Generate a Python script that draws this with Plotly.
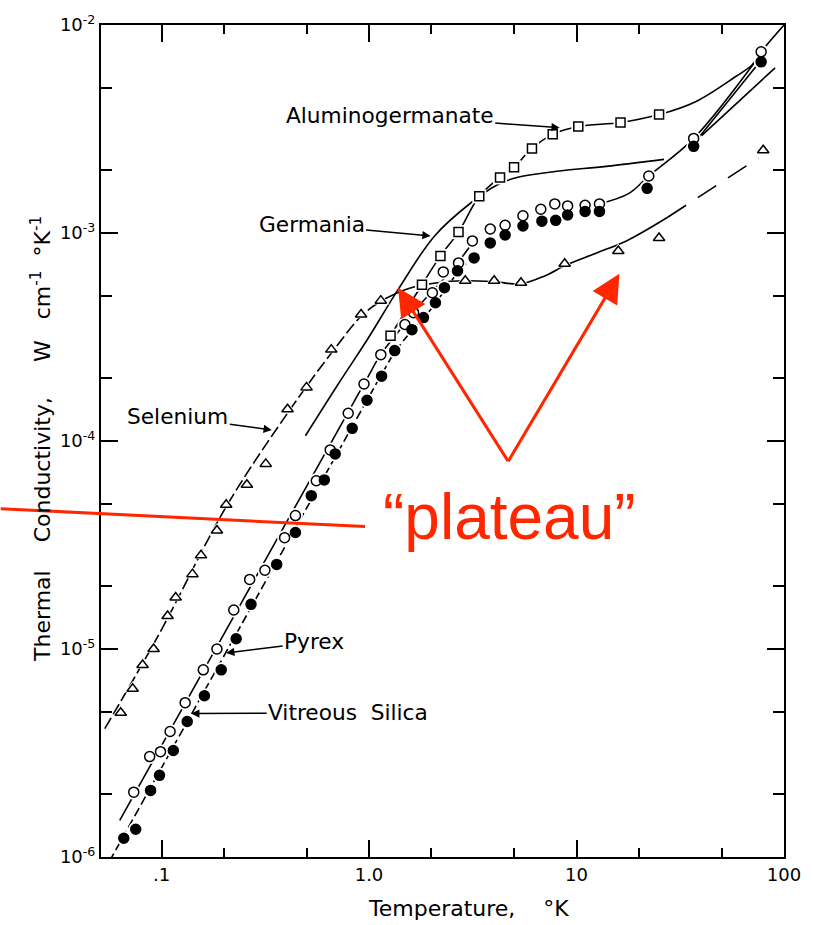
import math
import plotly.graph_objects as go

# Thermal conductivity of glasses vs temperature (log-log)

# --- measured points -------------------------------------------------------
pyrex_T = [0.0735, 0.0877, 0.0989, 0.110, 0.130, 0.159, 0.185, 0.223, 0.266, 0.315,
           0.392, 0.442, 0.557, 0.650, 0.794, 0.946, 1.14, 1.49, 1.64, 2.02,
           2.28, 2.70, 3.15, 3.84, 4.53, 5.52, 6.73, 7.86, 9.06, 11.0,
           12.9, 22.3, 36.7, 77.6]
pyrex_k = [2.05e-6, 3.04e-6, 3.21e-6, 4.01e-6, 5.52e-6, 7.94e-6, 1.0e-5, 1.54e-5, 2.16e-5, 2.39e-5,
           3.43e-5, 4.38e-5, 6.44e-5, 9.06e-5, 1.36e-4, 1.88e-4, 2.60e-4, 3.63e-4, 4.14e-4, 5.16e-4,
           6.50e-4, 7.18e-4, 9.16e-4, 1.045e-3, 1.09e-3, 1.21e-3, 1.30e-3, 1.38e-3, 1.35e-3, 1.36e-3,
           1.38e-3, 1.88e-3, 2.85e-3, 7.43e-3]

silica_T = [0.0658, 0.0751, 0.0886, 0.0978, 0.114, 0.133, 0.161, 0.194, 0.229, 0.270,
            0.359, 0.442, 0.527, 0.609, 0.687, 0.830, 0.978, 1.15, 1.33, 1.61,
            1.83, 2.09, 2.31, 2.67, 3.21, 3.84, 4.53, 5.52, 6.81, 7.94,
            9.06, 11.0, 12.9, 21.9, 36.7, 77.6]
silica_k = [1.23e-6, 1.36e-6, 2.09e-6, 2.47e-6, 3.25e-6, 4.48e-6, 5.96e-6, 7.94e-6, 1.12e-5, 1.64e-5,
            2.55e-5, 3.63e-5, 5.46e-5, 6.50e-5, 8.67e-5, 1.15e-4, 1.57e-4, 2.05e-4, 2.72e-4, 3.43e-4,
            3.92e-4, 4.62e-4, 5.46e-4, 6.58e-4, 7.59e-4, 8.96e-4, 9.78e-4, 1.08e-3, 1.14e-3, 1.15e-3,
            1.22e-3, 1.27e-3, 1.27e-3, 1.64e-3, 2.61e-3, 6.65e-3]

selenium_T = [0.0636, 0.0726, 0.0811, 0.0916, 0.107, 0.117, 0.141, 0.155, 0.185, 0.205,
              0.258, 0.318, 0.405, 0.500, 0.658, 0.916, 1.14, 2.91, 4.01, 5.40,
              8.77, 15.9, 25.0, 79.4]
selenium_k = [4.94e-6, 6.44e-6, 8.38e-6, 1.0e-5, 1.44e-5, 1.77e-5, 2.29e-5, 2.82e-5, 3.71e-5, 4.94e-5,
              6.16e-5, 7.76e-5, 1.42e-4, 1.81e-4, 2.75e-4, 4.06e-4, 4.73e-4, 5.89e-4, 5.89e-4, 5.76e-4,
              7.11e-4, 8.20e-4, 9.46e-4, 2.50e-3]

alumino_T = [1.27, 1.80, 2.21, 2.70, 3.40, 4.28, 5.00, 6.10, 7.68, 10.2, 16.3, 25.0]
alumino_k = [3.21e-4, 5.64e-4, 7.76e-4, 1.01e-3, 1.50e-3, 1.85e-3, 2.07e-3, 2.55e-3, 2.98e-3, 3.25e-3,
             3.40e-3, 3.71e-3]

# --- smooth curves drawn through / beside the data --------------------------
pyrex_lo_T = [0.0629, 0.251, 0.946, 1.14, 1.38, 1.71, 2.14, 2.67, 3.25]
pyrex_lo_k = [1.50e-6, 1.77e-5, 1.88e-4, 2.61e-4, 3.33e-4, 4.38e-4, 5.57e-4, 7.18e-4, 9.36e-4]
pyrex_hi_T = [12.9, 17.9, 22.3, 36.7, 77.6]
pyrex_hi_k = [1.38e-3, 1.55e-3, 1.88e-3, 2.85e-3, 7.30e-3]

silica_lo_T = [0.0560, 0.251, 0.978, 1.15, 1.33, 1.61, 1.91, 2.31, 2.72, 3.32]
silica_lo_k = [9.5e-7, 1.39e-5, 1.57e-4, 2.09e-4, 2.67e-4, 3.40e-4, 4.09e-4, 5.27e-4, 6.58e-4, 8.02e-4]
silica_hi_T = [37.5, 76.0]
silica_hi_k = [2.75e-3, 6.60e-3]

germania_T = [0.494, 0.711, 0.989, 1.38, 2.07, 3.08, 4.14, 5.16, 8.02, 13.9, 26.4]
germania_k = [1.06e-4, 1.88e-4, 3.11e-4, 5.34e-4, 9.68e-4, 1.39e-3, 1.70e-3, 1.85e-3, 1.98e-3,
              2.09e-3, 2.26e-3]
germania_hi_T = [40.1, 90.6]
germania_hi_k = [2.94e-3, 6.22e-3]

selenium_lo_T = [0.0533, 0.0978, 0.205, 0.409, 0.673, 0.935, 1.17]
selenium_lo_k = [4.14e-6, 1.19e-5, 4.83e-5, 1.38e-4, 2.72e-4, 4.06e-4, 4.78e-4]
selenium_mid_T = [1.17, 1.54, 2.14, 2.91, 4.01, 5.40, 7.03, 8.95, 12.5, 17.4, 27.5]
selenium_mid_k = [4.78e-4, 5.40e-4, 5.77e-4, 5.89e-4, 5.83e-4, 5.70e-4, 6.22e-4, 7.03e-4, 8.02e-4,
                  9.16e-4, 1.19e-3]
selenium_hi_T = [27.5, 75.2]
selenium_hi_k = [1.19e-3, 2.29e-3]

alumino_line_T = alumino_T + [37.5, 58.3, 70.3, 77.6, 100.0]
alumino_line_k = alumino_k + [4.28e-3, 5.64e-3, 6.44e-3, 7.43e-3, 1.0e-2]

# --- axis ticks --------------------------------------------------------------
x_major = [0.1, 1, 10, 100]
x_major_text = [".1", "1.0", "10", "100"]
x_minor = [0.2, 0.5, 2, 5, 20, 50]
y_major = [1e-6, 1e-5, 1e-4, 1e-3, 1e-2]
y_major_text = ["10<sup>-6</sup>", "10<sup>-5</sup>", "10<sup>-4</sup>", "10<sup>-3</sup>", "10<sup>-2</sup>"]
y_minor = [m * 10.0 ** e for e in range(-6, -2) for m in (2, 5)]

INK = "black"
RED = "#ff2600"
FONT = "DejaVu Sans"
LW = 1.6
NB = "\u00a0"

fig = go.Figure()


def curve(T, k, dash="solid"):
    fig.add_trace(go.Scatter(x=T, y=k, mode="lines",
                             line=dict(color=INK, width=LW, shape="spline", dash=dash),
                             hoverinfo="skip", showlegend=False))


curve(pyrex_lo_T, pyrex_lo_k)
curve(pyrex_hi_T, pyrex_hi_k)
curve(silica_lo_T, silica_lo_k, dash="9px,4px")
curve(silica_hi_T, silica_hi_k)
curve(germania_T, germania_k)
curve(germania_hi_T, germania_hi_k)
curve(selenium_lo_T, selenium_lo_k, dash="12px,4px")
curve(selenium_mid_T, selenium_mid_k)
curve(selenium_hi_T, selenium_hi_k, dash="22px,14px")
curve(alumino_line_T, alumino_line_k)

series = [
    (alumino_T, alumino_k, "square", 9, "white"),
    (selenium_T, selenium_k, "triangle-up", 10, "white"),
    (pyrex_T, pyrex_k, "circle", 10, "white"),
    (silica_T, silica_k, "circle", 10, INK),
]

# white halo so the curves stop just short of each symbol
for T, k, sym, size, fill in series:
    fig.add_trace(go.Scatter(x=T, y=k, mode="markers",
                             marker=dict(symbol=sym, size=size + 5, color="white",
                                         line=dict(width=0)),
                             hoverinfo="skip", showlegend=False))
for T, k, sym, size, fill in series:
    fig.add_trace(go.Scatter(x=T, y=k, mode="markers",
                             marker=dict(symbol=sym, size=size, color=fill,
                                         line=dict(color=INK, width=1.5)),
                             showlegend=False))


def label(text, tip_T, tip_k, ax, ay):
    fig.add_annotation(x=math.log10(tip_T), y=math.log10(tip_k), xref="x", yref="y",
                       text=text, showarrow=True, ax=ax, ay=ay,
                       arrowhead=2, arrowsize=1.1, arrowwidth=1.5, arrowcolor=INK,
                       font=dict(family=FONT, size=21.7, color=INK))


label("Aluminogermanate", 8.3, 3.21e-3, -170, -12)
label("Germania", 1.98, 9.68e-4, -119, -11)
label("Selenium", 0.340, 1.13e-4, -94, -13)
label("Pyrex", 0.205, 9.57e-6, 88, -11)
label("Vitreous" + NB * 2 + "Silica", 0.139, 4.89e-6, 157, -1)

# "plateau" call-out
fig.add_annotation(x=math.log10(4.73), y=math.log10(4.33e-5), xref="x", yref="y",
                   text="\u201cplateau\u201d", showarrow=False,
                   font=dict(family="Liberation Sans", size=64, color=RED))
for tip_T, tip_k, ax, ay in [(1.38, 5.46e-4, 111, 175), (16.1, 6.37e-4, -112, 189)]:
    fig.add_annotation(x=math.log10(tip_T), y=math.log10(tip_k), xref="x", yref="y",
                       text="", showarrow=True, ax=ax, ay=ay,
                       arrowhead=2, arrowsize=1.9, arrowwidth=3, arrowcolor=RED)
fig.add_shape(type="line", xref="paper", yref="paper",
              x0=-0.1468, y0=0.4187, x1=0.3866, y1=0.3971,
              line=dict(color=RED, width=3))

# axis titles
fig.add_annotation(xref="paper", yref="paper", x=0.538, y=-0.062,
                   xanchor="center", yanchor="middle",
                   text="Temperature," + NB * 4 + "°K", showarrow=False,
                   font=dict(family=FONT, size=22, color=INK))
fig.add_annotation(xref="paper", yref="paper", x=-0.0887, y=0.503, textangle=-90,
                   xanchor="center", yanchor="middle",
                   text=("Thermal" + NB * 4 + "Conductivity," + NB * 5 + "W" + NB * 3 +
                         "cm<sup>-1</sup>" + NB * 2 + "°K<sup>-1</sup>"),
                   showarrow=False, font=dict(family=FONT, size=22, color=INK))

axis_common = dict(type="log", showgrid=False, zeroline=False,
                   showline=True, linewidth=2, linecolor=INK, mirror="allticks",
                   ticks="inside", ticklen=17, tickwidth=2, tickcolor=INK,
                   tickfont=dict(family=FONT, size=18, color=INK))

fig.update_layout(
    width=813, height=925,
    margin=dict(l=101, r=24, t=21, b=68),
    paper_bgcolor="white", plot_bgcolor="white",
    xaxis=dict(range=[math.log10(0.0511), 2], tickmode="array",
               tickvals=x_major, ticktext=x_major_text,
               minor=dict(tickmode="array", tickvals=x_minor, ticks="inside", ticklen=9,
                          tickwidth=2, tickcolor=INK, showgrid=False),
               **axis_common),
    yaxis=dict(range=[-6, -2], tickmode="array",
               tickvals=y_major, ticktext=y_major_text,
               minor=dict(tickmode="array", tickvals=y_minor, ticks="inside", ticklen=11,
                          tickwidth=2, tickcolor=INK, showgrid=False),
               **axis_common),
)

fig.write_html("out.html")
